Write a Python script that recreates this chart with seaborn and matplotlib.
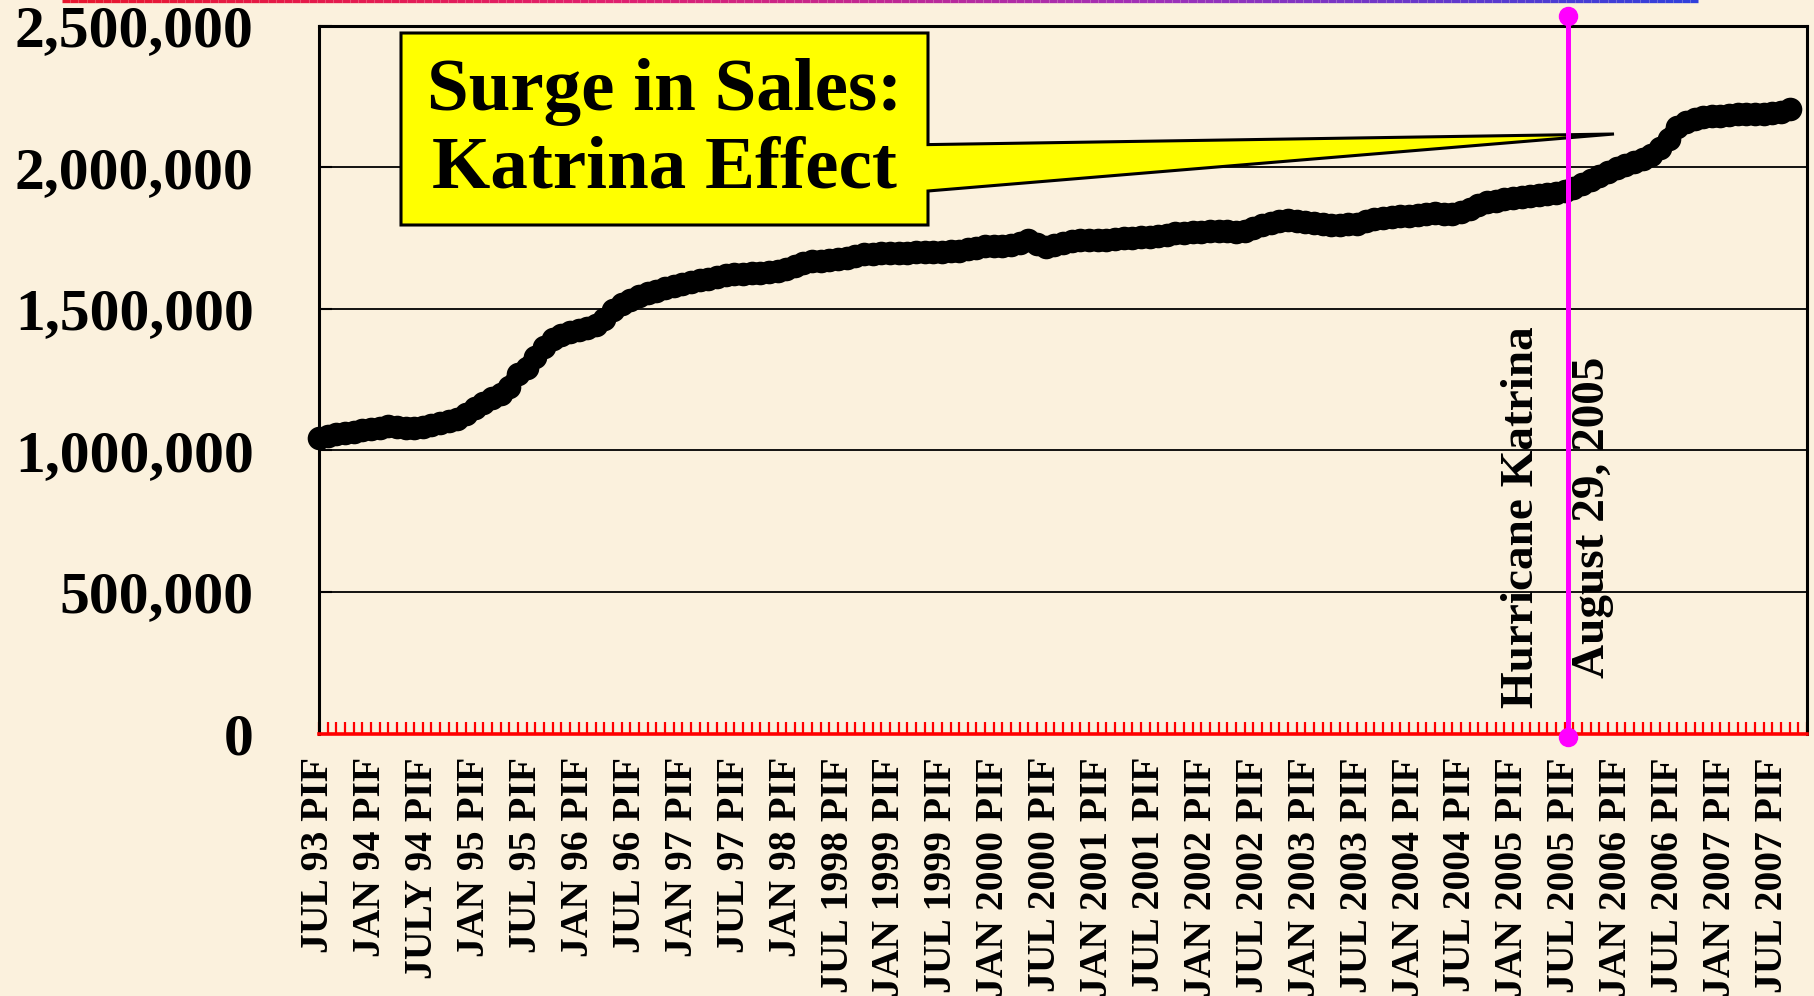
import numpy as np
import pandas as pd
import matplotlib
matplotlib.use("Agg")
import matplotlib.pyplot as plt
from matplotlib.collections import LineCollection
from matplotlib.patches import Polygon
from matplotlib.colors import LinearSegmentedColormap
from matplotlib.ticker import FuncFormatter
import seaborn as sns

# Monthly policies in force (thousands), July 1993 through September 2007
pif_thousands = [
    1045, 1052, 1058, 1062, 1066, 1070, 1074, 1080, 1086, 1084,
    1078, 1080, 1083, 1088, 1096, 1104, 1112, 1128, 1148, 1168,
    1186, 1200, 1222, 1268, 1292, 1330, 1365, 1392, 1408, 1418,
    1424, 1432, 1442, 1462, 1494, 1515, 1532, 1545, 1556, 1564,
    1572, 1580, 1588, 1594, 1600, 1606, 1612, 1618, 1622, 1624,
    1626, 1626, 1628, 1632, 1640, 1652, 1662, 1668, 1670, 1672,
    1674, 1680, 1686, 1692, 1694, 1695, 1696, 1698, 1698, 1700,
    1700, 1700, 1701, 1703, 1705, 1710, 1716, 1720, 1722, 1722,
    1724, 1732, 1742, 1730, 1718, 1724, 1732, 1738, 1741, 1742,
    1743, 1744, 1746, 1748, 1750, 1752, 1754, 1758, 1762, 1766,
    1768, 1770, 1772, 1773, 1774, 1774, 1772, 1776, 1784, 1794,
    1804, 1810, 1812, 1808, 1806, 1802, 1798, 1796, 1796, 1798,
    1800, 1808, 1816, 1820, 1824, 1826, 1826, 1830, 1836, 1838,
    1834, 1836, 1842, 1852, 1866, 1876, 1880, 1886, 1890, 1894,
    1898, 1902, 1906, 1910, 1916, 1926, 1940, 1956, 1970, 1984,
    1996, 2008, 2018, 2030, 2042, 2066, 2100, 2140, 2160, 2170,
    2176, 2180, 2182, 2184, 2186, 2186, 2188, 2188, 2190, 2196,
    2204,
]

period_labels = [
    "JUL 93 PIF", "JAN 94 PIF", "JULY 94 PIF", "JAN 95 PIF", "JUL 95 PIF",
    "JAN 96 PIF", "JUL 96 PIF", "JAN 97 PIF", "JUL 97 PIF", "JAN 98 PIF",
    "JUL 1998 PIF", "JAN 1999 PIF", "JUL 1999 PIF", "JAN 2000 PIF",
    "JUL 2000 PIF", "JAN 2001 PIF", "JUL 2001 PIF", "JAN 2002 PIF",
    "JUL 2002 PIF", "JAN 2003 PIF", "JUL 2003 PIF", "JAN 2004 PIF",
    "JUL 2004 PIF", "JAN 2005 PIF", "JUL 2005 PIF", "JAN 2006 PIF",
    "JUL 2006 PIF", "JAN 2007 PIF", "JUL 2007 PIF",
]
label_every = 6            # one label per half year
n_categories = 173         # monthly slots on the category axis
katrina_month = 144.4      # landfall, August 29, 2005
y_ticks = [0, 500000, 1000000, 1500000, 2000000, 2500000]

callout_lines = ["Surge in Sales:", "Katrina Effect"]
event_lines = ["Hurricane Katrina", "August 29, 2005"]

# ---------------------------------------------------------------- layout
W, H, DPI = 1814, 996, 100
BG = "#FBF1DD"


def fxy(px, py):
    """Pixel position on the canvas -> figure fraction."""
    return px / W, 1 - py / H


sns.set_style("white")
plt.rcParams["font.family"] = ["Liberation Serif", "DejaVu Serif"]
plt.rcParams["font.weight"] = "bold"
plt.rcParams["text.color"] = "black"
plt.rcParams["xtick.labelcolor"] = "black"
plt.rcParams["ytick.labelcolor"] = "black"

fig = plt.figure(figsize=(W / DPI, H / DPI), dpi=DPI, facecolor=BG)
left, right, top, bottom = 319, 1807, 25.5, 733.5
ax = fig.add_axes([left / W, 1 - bottom / H, (right - left) / W, (bottom - top) / H])
ax.set_facecolor("none")

df = pd.DataFrame({
    "month": np.arange(len(pif_thousands)),
    "pif": np.asarray(pif_thousands) * 1000,
})

sns.lineplot(data=df, x="month", y="pif", ax=ax, color="black",
             linewidth=13, marker="o", markersize=17, markeredgewidth=0,
             zorder=4, clip_on=False)

ax.set_xlim(0, n_categories - 1)
ax.set_ylim(y_ticks[0], y_ticks[-1])
ax.set_xlabel("")
ax.set_ylabel("")

# y axis
ax.set_yticks(y_ticks)
ax.yaxis.set_major_formatter(FuncFormatter(lambda v, _: f"{v:,.0f}"))
ax.tick_params(axis="y", direction="in", length=9, width=1.5, color="black",
               pad=47, labelsize=43, labelcolor="black", left=True)
for lab in ax.get_yticklabels():
    lab.set_fontweight("bold")
ax.yaxis.grid(True, color="black", linewidth=1.3)
ax.xaxis.grid(False)

# x axis: a tick for every month, a label every half year
ax.set_xticks(np.arange(0, len(period_labels) * label_every, label_every))
ax.set_xticklabels(period_labels, rotation=90, fontsize=28.5, fontweight="bold")
ax.set_xticks(np.arange(0, n_categories), minor=True)
ax.tick_params(axis="x", which="both", direction="in", length=8.5, width=1.6,
               color="#FF0000", labelcolor="black", bottom=True)
ax.tick_params(axis="x", which="major", pad=17)

for side in ("left", "top", "right"):
    ax.spines[side].set_visible(True)
    ax.spines[side].set_color("black")
    ax.spines[side].set_linewidth(2.2)
ax.spines["bottom"].set_color("#FF0000")
ax.spines["bottom"].set_linewidth(2.6)
ax.spines["bottom"].set_zorder(5)

# Callout box with its pointer
callout = Polygon(
    [fxy(401, 33), fxy(928, 33), fxy(928, 144.6), fxy(1614, 134),
     fxy(928, 191), fxy(928, 225), fxy(401, 225)],
    closed=True, facecolor="#FFFF00", edgecolor="black", linewidth=2.2,
    transform=fig.transFigure, zorder=5, clip_on=False)
ax.add_patch(callout)
for txt, base in zip(callout_lines, (110, 187)):
    ax.text(*fxy(664.5, base), txt, transform=fig.transFigure, ha="center",
            va="baseline", fontsize=54, fontweight="bold", color="black",
            zorder=7)

# Hurricane marker line
xform = ax.get_xaxis_transform()
ax.plot([katrina_month, katrina_month], [-0.005, 1.0134], transform=xform,
        color="#FF00FF", linewidth=3.6, marker="o", markersize=13,
        clip_on=False, zorder=6)
ax.text(katrina_month - 2.9, 0.306, event_lines[0], transform=xform,
        rotation=90, ha="right", va="center", fontsize=34,
        fontweight="bold", color="black", zorder=5)
ax.text(katrina_month + 0.4, 0.306, event_lines[1], transform=xform,
        rotation=90, ha="left", va="center", fontsize=34,
        fontweight="bold", color="black", zorder=5)

# Thin gradient rule along the top edge
x0, x1 = 62, 1698
xs = np.linspace(x0, x1, 200)
pts = np.array([fxy(x, 0.8) for x in xs])
segs = np.stack([pts[:-1], pts[1:]], axis=1)
rule_cmap = LinearSegmentedColormap.from_list(
    "rule", ["#E8162E", "#E0206E", "#A030B8", "#3040DC"])
rule = LineCollection(segs, colors=rule_cmap(np.linspace(0, 1, len(segs))),
                      linewidths=2.4, transform=fig.transFigure)
fig.add_artist(rule)

fig.savefig("out.png", dpi=DPI, facecolor=BG)
